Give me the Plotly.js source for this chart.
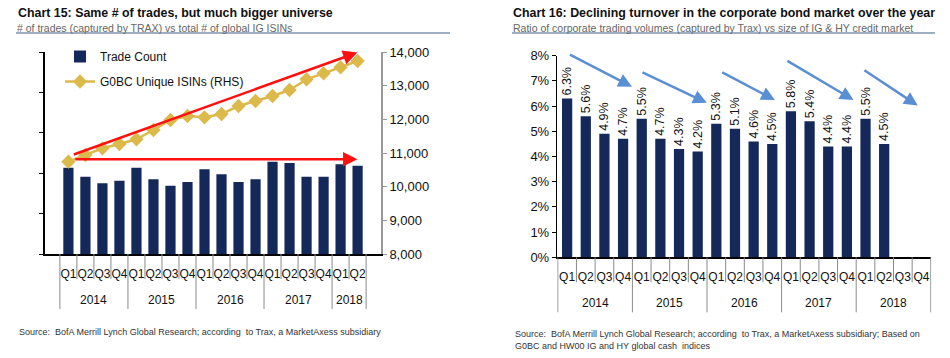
<!DOCTYPE html>
<html>
<head>
<meta charset="utf-8">
<script src="https://cdn.plot.ly/plotly-3.0.1.min.js"></script>
<style>
  html, body { margin: 0; padding: 0; background: #fff; }
  #chart { width: 950px; height: 358px; }
</style>
</head>
<body>
<div id="chart"></div>
<script>
// ---------- Chart 15 data ----------
const c15Years    = ['2014','2014','2014','2014','2015','2015','2015','2015','2016','2016','2016','2016','2017','2017','2017','2017','2018','2018'];
const c15Quarters = ['Q1','Q2','Q3','Q4','Q1','Q2','Q3','Q4','Q1','Q2','Q3','Q4','Q1','Q2','Q3','Q4','Q1','Q2'];
// Trade count (left axis carries no labels; relative units)
const tradeCount  = [42.7, 38.3, 35.0, 36.3, 42.7, 37.0, 33.8, 35.6, 41.9, 39.5, 35.6, 37.0, 45.7, 45.0, 38.3, 38.3, 44.4, 43.7];
// G0BC unique ISINs (RHS)
const uniqueIsins = [10742, 10941, 11140, 11268, 11407, 11683, 11980, 12099, 12060, 12158, 12396, 12545, 12693, 12871, 13189, 13367, 13545, 13733];

// ---------- Chart 16 data ----------
const c16Years    = ['2014','2014','2014','2014','2015','2015','2015','2015','2016','2016','2016','2016','2017','2017','2017','2017','2018','2018','2018','2018'];
const c16Quarters = ['Q1','Q2','Q3','Q4','Q1','Q2','Q3','Q4','Q1','Q2','Q3','Q4','Q1','Q2','Q3','Q4','Q1','Q2','Q3','Q4'];
const turnoverPct = [6.3, 5.6, 4.9, 4.7, 5.5, 4.7, 4.3, 4.2, 5.3, 5.1, 4.6, 4.5, 5.8, 5.4, 4.4, 4.4, 5.5, 4.5, null, null];

// ---------- Trend arrows (category index, value) ----------
const c15ArrowTails = [[0.23, 10941], [0.32, 10813]];
const c15ArrowHeads = [[16.99, 13985], [16.99, 10813]];
const c16ArrowTails = [[0.07, 8.07], [3.96, 7.37], [8.24, 7.37], [11.73, 7.83], [15.86, 7.46]];
const c16ArrowHeads = [[3.48, 6.77], [7.49, 6.13], [11.14, 6.24], [15.36, 6.24], [18.8, 6.02]];

const NAVY = '#14295a';
const GOLD = '#dcb94b';
const RED = '#ff1010';
const BLUE = '#5b8fd4';
const SEP = '#8a8a8a';
const FONT = 'Liberation Sans, Arial, sans-serif';

const c15Cats = c15Years.map((y, i) => y + ' ' + c15Quarters[i]);
const c16Cats = c16Years.map((y, i) => y + ' ' + c16Quarters[i]);

const traces = [
  {
    type: 'bar', name: 'Trade Count',
    x: c15Cats, y: tradeCount,
    xaxis: 'x', yaxis: 'y',
    marker: { color: NAVY }, width: 0.6,
    legendgroup: 'a'
  },
  {
    type: 'scatter', mode: 'lines+markers', name: 'G0BC Unique ISINs (RHS)',
    x: c15Cats, y: uniqueIsins,
    xaxis: 'x', yaxis: 'y2',
    line: { color: GOLD, width: 2.5 },
    marker: { symbol: 'diamond', size: 11, color: GOLD },
    legendgroup: 'b'
  },
  {
    type: 'bar', name: 'Turnover',
    x: c16Cats, y: turnoverPct,
    xaxis: 'x2', yaxis: 'y3',
    marker: { color: NAVY }, width: 0.55,
    text: turnoverPct.map(v => v == null ? '' : v.toFixed(1) + '%'),
    textposition: 'outside', textangle: -90, constraintext: 'none',
    cliponaxis: false,
    textfont: { family: FONT, size: 12.5, color: '#111' },
    showlegend: false
  }
];

const annotations = [];
const shapes = [];

c15ArrowTails.forEach((t, i) => {
  const h = c15ArrowHeads[i];
  annotations.push({
    xref: 'x', yref: 'y2', axref: 'x', ayref: 'y2',
    x: h[0], y: h[1], ax: t[0], ay: t[1], text: '',
    showarrow: true, arrowhead: 2, arrowsize: 1.15, arrowwidth: 2.5, arrowcolor: RED
  });
});
c16ArrowTails.forEach((t, i) => {
  const h = c16ArrowHeads[i];
  annotations.push({
    xref: 'x2', yref: 'y3', axref: 'x2', ayref: 'y3',
    x: h[0], y: h[1], ax: t[0], ay: t[1], text: '',
    showarrow: true, arrowhead: 2, arrowsize: 1.1, arrowwidth: 2.5, arrowcolor: BLUE
  });
});

// Year labels and category separators below each x axis
function addGroups(years, xref, axisY) {
  const yAxis = 1 - axisY / 358;
  const yShort = 1 - (axisY + 25) / 358;
  const yLong = 1 - (axisY + 55) / 358;
  let start = 0;
  for (let i = 0; i <= years.length; i++) {
    const isYearEdge = (i === 0 || i === years.length || years[i] !== years[i - 1]);
    shapes.push({
      type: 'line', xref: xref, yref: 'paper', x0: i - 0.5, x1: i - 0.5,
      y0: yAxis, y1: isYearEdge ? yLong : yShort,
      line: { color: SEP, width: 1 }
    });
    if (i > 0 && (i === years.length || years[i] !== years[i - 1])) {
      annotations.push({
        xref: xref, yref: 'paper', x: (start + i - 1) / 2, y: 1 - (axisY + 46) / 358,
        xanchor: 'center', yanchor: 'middle', showarrow: false,
        text: years[i - 1], font: { family: FONT, size: 12, color: '#111' }
      });
      start = i;
    }
  }
}
addGroups(c15Years, 'x', 254);
addGroups(c16Years, 'x2', 257.3);

function txt(x, y, text, size, color) {
  return {
    xref: 'paper', yref: 'paper', x: x / 950, y: 1 - y / 358,
    xanchor: 'left', yanchor: 'middle', align: 'left', showarrow: false,
    text: text, font: { family: FONT, size: size, color: color }
  };
}
annotations.push(txt(16, 13, '<b>Chart 15: Same # of trades, but much bigger universe</b>', 12.4, '#111'));
annotations.push(txt(15, 27.5, '# of trades (captured by TRAX) vs total # of global IG ISINs', 10.5, '#666'));
annotations.push(txt(511, 13, '<b>Chart 16: Declining turnover in the corporate bond market over the year</b>', 12.4, '#111'));
annotations.push(txt(511, 27.5, 'Ratio of corporate trading volumes (captured by Trax) vs size of IG &amp; HY credit market', 10.5, '#666'));
annotations.push(txt(17, 332, 'Source:  BofA Merrill Lynch Global Research; according  to Trax, a MarketAxess subsidiary', 9, '#333'));
annotations.push(txt(513, 340, 'Source:  BofA Merrill Lynch Global Research; according  to Trax, a MarketAxess subsidiary; Based on<br>G0BC and HW00 IG and HY global cash  indices', 9, '#333'));

shapes.push(
  { type: 'line', xref: 'paper', yref: 'paper', x0: 16 / 950, x1: 450 / 950, y0: 1 - 33 / 358, y1: 1 - 33 / 358, line: { color: '#7d93b2', width: 1.5 } },
  { type: 'line', xref: 'paper', yref: 'paper', x0: 512 / 950, x1: 935 / 950, y0: 1 - 33 / 358, y1: 1 - 33 / 358, line: { color: '#7d93b2', width: 1.5 } }
);

const xCommon = {
  type: 'category',
  showline: true, linecolor: '#000', linewidth: 1.5,
  ticks: '', tickangle: 0, ticklabelstandoff: 8,
  tickfont: { family: FONT, size: 12, color: '#111' },
  showgrid: false, zeroline: false, automargin: false, fixedrange: true
};

const layout = {
  width: 950, height: 358,
  margin: { l: 0, r: 0, t: 0, b: 0 },
  paper_bgcolor: '#fff', plot_bgcolor: 'rgba(0,0,0,0)',
  font: { family: FONT, size: 12, color: '#111' },
  showlegend: true,
  legend: {
    x: 60 / 950, y: 1 - 42 / 358, xanchor: 'left', yanchor: 'top',
    bgcolor: 'rgba(0,0,0,0)', font: { family: FONT, size: 12, color: '#111' },
    traceorder: 'grouped', tracegroupgap: 6
  },
  xaxis: Object.assign({}, xCommon, {
    domain: [44.7 / 950, 381.3 / 950], anchor: 'y',
    tickvals: c15Cats, ticktext: c15Quarters
  }),
  yaxis: {
    domain: [1 - 254 / 358, 1 - 52 / 358], anchor: 'x',
    range: [0, 100], dtick: 20, showticklabels: false,
    showline: true, linecolor: '#000', linewidth: 1.5,
    ticks: 'outside', ticklen: 4, tickcolor: '#000',
    showgrid: false, zeroline: false, automargin: false, fixedrange: true
  },
  yaxis2: {
    overlaying: 'y', side: 'right', anchor: 'x',
    range: [8000, 14000], dtick: 1000, tickformat: ',d',
    showline: true, linecolor: '#999', linewidth: 1.5,
    ticks: 'outside', ticklen: 4, tickcolor: '#999',
    tickfont: { family: FONT, size: 13, color: '#111' },
    showgrid: false, zeroline: false, automargin: false, fixedrange: true
  },
  xaxis2: Object.assign({}, xCommon, {
    domain: [557.3 / 950, 931.3 / 950], anchor: 'y3',
    tickvals: c16Cats, ticktext: c16Quarters
  }),
  yaxis3: {
    domain: [1 - 257.3 / 358, 1 - 55.7 / 358], anchor: 'x2',
    range: [0, 8], dtick: 1, ticksuffix: '%',
    showline: true, linecolor: '#000', linewidth: 1.5,
    ticks: 'outside', ticklen: 4, tickcolor: '#000',
    tickfont: { family: FONT, size: 13, color: '#111' },
    showgrid: false, zeroline: false, automargin: false, fixedrange: true
  },
  annotations: annotations,
  shapes: shapes
};

Plotly.newPlot('chart', traces, layout, { staticPlot: true, displayModeBar: false });
</script>
</body>
</html>
